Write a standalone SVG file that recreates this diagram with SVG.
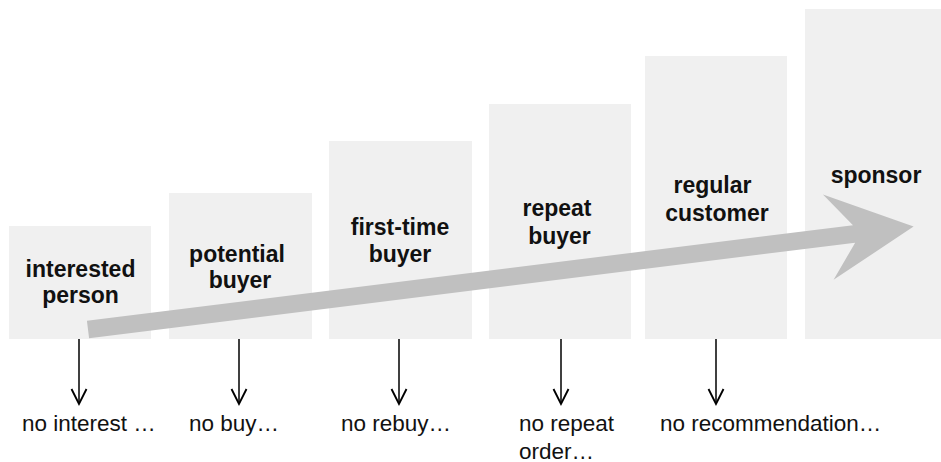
<svg xmlns="http://www.w3.org/2000/svg" width="941" height="462" viewBox="0 0 941 462">
  <style>
    .box { fill: #f0f0f0; }
    .lbl { font-family: "Liberation Sans", Arial, sans-serif; font-weight: bold; font-size: 23px; fill: #111; text-anchor: middle; }
    .out { font-family: "Liberation Sans", Arial, sans-serif; font-size: 22.5px; fill: #111; }
    .drop { stroke: #000; stroke-width: 1.5; fill: none; marker-end: url(#vhead); }
    .big { fill: #c0c0c0; }
  </style>
  <defs>
    <marker id="vhead" markerUnits="userSpaceOnUse" markerWidth="20" markerHeight="20" viewBox="-14 -8 16 16" refX="0" refY="0" orient="auto">
      <path d="M-12,-6 L0,0 L-12,6" fill="none" stroke="#000" stroke-width="1.5"/>
    </marker>
  </defs>
  <rect width="941" height="462" fill="#ffffff"/>

  <g id="node-interested-person">
    <rect class="box" x="9" y="226" width="142" height="113"/>
    <text class="lbl" x="80.5" y="277">interested</text>
    <text class="lbl" x="80.5" y="303">person</text>
  </g>
  <g id="node-potential-buyer">
    <rect class="box" x="169" y="193" width="143" height="146"/>
    <text class="lbl" x="237" y="262">potential</text>
    <text class="lbl" x="240" y="288">buyer</text>
  </g>
  <g id="node-first-time-buyer">
    <rect class="box" x="329" y="141" width="143" height="198"/>
    <text class="lbl" x="400" y="235">first-time</text>
    <text class="lbl" x="400" y="262">buyer</text>
  </g>
  <g id="node-repeat-buyer">
    <rect class="box" x="489" y="104" width="142" height="235"/>
    <text class="lbl" x="557" y="216">repeat</text>
    <text class="lbl" x="559.5" y="244">buyer</text>
  </g>
  <g id="node-regular-customer">
    <rect class="box" x="645" y="56" width="142" height="283"/>
    <text class="lbl" x="712.5" y="193">regular</text>
    <text class="lbl" x="717" y="221">customer</text>
  </g>
  <g id="node-sponsor">
    <rect class="box" x="805" y="9" width="142" height="330"/>
    <text class="lbl" x="876" y="183">sponsor</text>
  </g>

  <g id="progress-arrow">
    <polygon class="big" transform="translate(88,329.5) rotate(-7.11)" points="0,-8.8 772,-8.8 746,-43 832,0 746,43 772,8.8 0,8.8"/>
  </g>

  <g id="connectors">
    <line class="drop" x1="79" y1="339" x2="79" y2="404"/>
    <line class="drop" x1="239" y1="339" x2="239" y2="404"/>
    <line class="drop" x1="399" y1="339" x2="399" y2="404"/>
    <line class="drop" x1="561" y1="339" x2="561" y2="404"/>
    <line class="drop" x1="716" y1="339" x2="716" y2="404"/>
  </g>

  <g id="outcomes">
    <text class="out" x="22" y="431">no interest …</text>
    <text class="out" x="189" y="431">no buy…</text>
    <text class="out" x="341" y="431">no rebuy…</text>
    <text class="out" x="519" y="431">no repeat</text>
    <text class="out" x="519" y="458.5">order…</text>
    <text class="out" x="660" y="431">no recommendation…</text>
  </g>
</svg>
